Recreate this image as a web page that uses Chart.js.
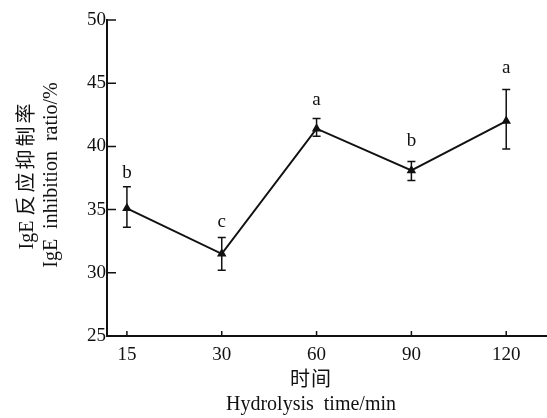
<!DOCTYPE html>
<html>
<head>
<meta charset="utf-8">
<script src="https://cdn.jsdelivr.net/npm/chart.js@4/dist/chart.umd.min.js"></script>
<style>
  body { margin: 0; background: #fff; }
</style>
</head>
<body>
<canvas id="myChart" width="547" height="418"></canvas>
<script>
// hydrolysis time categories and IgE inhibition ratio (%)
var times = ["15", "30", "60", "90", "120"];
var ratio = [35.1, 31.5, 41.4, 38.1, 42.0];
var errLow = [33.6, 30.2, 40.8, 37.3, 39.8];
var errHigh = [36.8, 32.8, 42.2, 38.8, 44.5];
var letters = ["b", "c", "a", "b", "a"];
var letterY = [37.5, 33.6, 43.3, 40.0, 45.8];
var yTicks = [25, 30, 35, 40, 45, 50];

var serif = "'Liberation Serif', 'Noto Sans CJK SC', serif";
var ink = "#111";

var extras = {
    id: "extras",
    afterDatasetsDraw: function (chart) {
        var ctx = chart.ctx;
        var xs = chart.scales.x, ys = chart.scales.y;
        var area = chart.chartArea;
        ctx.save();
        ctx.strokeStyle = ink;
        ctx.fillStyle = ink;
        ctx.lineWidth = 1.5;
        // inward tick marks
        ctx.beginPath();
        times.forEach(function (t, i) {
            var x = xs.getPixelForValue(i);
            ctx.moveTo(x, area.bottom);
            ctx.lineTo(x, area.bottom - 5);
        });
        yTicks.forEach(function (v) {
            var y = ys.getPixelForValue(v);
            ctx.moveTo(area.left, y);
            ctx.lineTo(area.left + 9, y);
        });
        ctx.stroke();
        // error bars
        ctx.beginPath();
        ratio.forEach(function (v, i) {
            var x = xs.getPixelForValue(i);
            var yt = ys.getPixelForValue(errHigh[i]);
            var yb = ys.getPixelForValue(errLow[i]);
            ctx.moveTo(x, yt); ctx.lineTo(x, yb);
            ctx.moveTo(x - 4, yt); ctx.lineTo(x + 4, yt);
            ctx.moveTo(x - 4, yb); ctx.lineTo(x + 4, yb);
        });
        ctx.stroke();
        // significance letters
        ctx.font = "19px " + serif;
        ctx.textAlign = "center";
        ctx.textBaseline = "alphabetic";
        letters.forEach(function (l, i) {
            ctx.fillText(l, xs.getPixelForValue(i), ys.getPixelForValue(letterY[i]));
        });
        // axis titles
        ctx.textBaseline = "middle";
        ctx.font = "20px " + serif;
        ctx.letterSpacing = "1px";
        ctx.fillText("时间", 311, 381);
        ctx.letterSpacing = "0px";
        ctx.fillText("Hydrolysis  time/min", 311, 405);
        ctx.translate(28, 175);
        ctx.rotate(-Math.PI / 2);
        // first line: latin part tight, chinese part spaced
        var head = "IgE ", tail = "反应抑制率";
        var w1 = ctx.measureText(head).width;
        ctx.letterSpacing = "3px";
        var w2 = ctx.measureText(tail).width;
        ctx.textAlign = "left";
        ctx.letterSpacing = "0px";
        ctx.fillText(head, -(w1 + w2) / 2, 0);
        ctx.letterSpacing = "3px";
        ctx.fillText(tail, -(w1 + w2) / 2 + w1, 0);
        ctx.letterSpacing = "0px";
        ctx.textAlign = "center";
        ctx.fillText("IgE  inhibition  ratio/%", 0, 24);
        ctx.restore();
    }
};

var ctx = document.getElementById("myChart");
var myChart = new Chart(ctx, {
    type: "line",
    data: {
        datasets: [{
            data: ratio.map(function (v, i) { return { x: i, y: v }; }),
            borderColor: ink,
            backgroundColor: ink,
            borderWidth: 2,
            pointStyle: "triangle",
            pointRadius: 3.5,
            tension: 0
        }]
    },
    options: {
        responsive: false,
        animation: false,
        layout: { autoPadding: false, padding: { top: 20, right: 0, left: 0, bottom: 0 } },
        plugins: { legend: { display: false }, tooltip: { enabled: false } },
        scales: {
            x: {
                type: "linear",
                min: -0.21,
                max: 4.43,
                afterFit: function (s) { s.height = 82; s.paddingLeft = 0; s.paddingRight = 0; },
                grid: { display: false, drawTicks: false },
                border: { display: true, color: ink, width: 2 },
                ticks: {
                    stepSize: 1,
                    includeBounds: false,
                    padding: 8,
                    color: ink,
                    font: { family: serif, size: 19 },
                    callback: function (v) { return times[v] !== undefined && Number.isInteger(v) ? times[v] : ""; }
                }
            },
            y: {
                min: 25,
                max: 50,
                afterFit: function (s) { s.width = 107; },
                grid: { display: false, drawTicks: false },
                border: { display: true, color: ink, width: 2 },
                ticks: {
                    stepSize: 5,
                    padding: 1,
                    color: ink,
                    font: { family: serif, size: 19 }
                }
            }
        }
    },
    plugins: [extras]
});
</script>
</body>
</html>
